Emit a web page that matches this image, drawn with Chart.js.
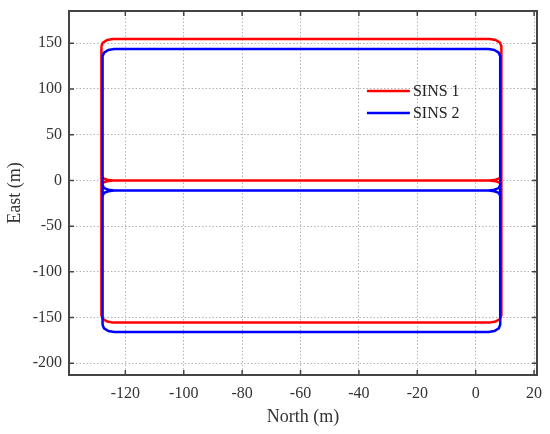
<!DOCTYPE html>
<html>
<head>
<meta charset="utf-8">
<script src="https://cdn.jsdelivr.net/npm/chart.js@4"></script>
<style>
  html, body { margin: 0; padding: 0; background: #fff; }
  #wrap { width: 550px; height: 434px; }
</style>
</head>
<body>
<div id="wrap"><canvas id="chart"></canvas></div>
<script>
// trajectory samples, null breaks the line between pieces
const sins1North = [
  -128.2, -127.7, -126.2, -124.2, 4.8, 6.8, 8.3, 8.8,
  8.8, 8.3, 6.8, 4.8, -124.2, -126.2, -127.7, -128.2, -128.2,
  null,
  8.8, 8.3, 6.8, 4.8, -124.2, -126.2, -127.7, -128.2,
  null,
  8.8, 8.3, 6.8, 4.8, -124.2, -126.2, -127.7, -128.2,
];
const sins1East = [
  146.7, 150.7, 153.6, 154.7, 154.7, 153.6, 150.7, 146.7,
  -147.5, -151.5, -154.4, -155.5, -155.5, -154.4, -151.5, -147.5, 146.7,
  null,
  6, 2.6, 0.8, 0, 0, 0.8, 2.6, 6,
  null,
  -6, -2.6, -0.8, 0, 0, -0.8, -2.6, -6,
];
const sins2North = [
  -127.8, -127.3, -125.8, -123.8, 4.4, 6.4, 7.9, 8.4,
  8.4, 7.9, 6.4, 4.4, -123.8, -125.8, -127.3, -127.8, -127.8,
  null,
  8.4, 7.9, 6.4, 4.4, -123.8, -125.8, -127.3, -127.8,
  null,
  8.4, 7.9, 6.4, 4.4, -123.8, -125.8, -127.3, -127.8,
];
const sins2East = [
  135.7, 139.7, 142.6, 143.7, 143.7, 142.6, 139.7, 135.7,
  -157.8, -161.8, -164.7, -165.8, -165.8, -164.7, -161.8, -157.8, 135.7,
  null,
  -5, -8.4, -10.2, -11, -11, -10.2, -8.4, -5,
  null,
  -17, -13.6, -11.8, -11, -11, -11.8, -13.6, -17,
];
const seriesNames = ["SINS 1", "SINS 2"];
const xTicks = [-120, -100, -80, -60, -40, -20, 0, 20];
const yTicks = [-200, -150, -100, -50, 0, 50, 100, 150];

const toPoints = (xs, ys) =>
  xs.map((x, i) => (x === null ? { x: null, y: null } : { x: x, y: ys[i] }));

const FONT = "'Liberation Serif', 'DejaVu Serif', serif";

// frame, inward ticks and legend inside the plot
const framePlugin = {
  id: "frame",
  afterDraw(chart) {
    const ctx = chart.ctx;
    const a = chart.chartArea;
    const xs = chart.scales.x;
    const ys = chart.scales.y;
    ctx.save();
    ctx.strokeStyle = "#444";
    ctx.lineWidth = 1.5;
    xTicks.forEach((v) => {
      const px = xs.getPixelForValue(v);
      ctx.beginPath();
      ctx.moveTo(px, a.bottom);
      ctx.lineTo(px, a.bottom - 5);
      ctx.moveTo(px, a.top);
      ctx.lineTo(px, a.top + 5);
      ctx.stroke();
    });
    yTicks.forEach((v) => {
      const py = ys.getPixelForValue(v);
      ctx.beginPath();
      ctx.moveTo(a.left, py);
      ctx.lineTo(a.left + 5, py);
      ctx.moveTo(a.right, py);
      ctx.lineTo(a.right - 5, py);
      ctx.stroke();
    });
    ctx.lineWidth = 2;
    ctx.strokeRect(a.left, a.top, a.right - a.left, a.bottom - a.top);

    // legend
    const lx = xs.getPixelForValue(-40) + 8;
    chart.data.datasets.forEach((ds, i) => {
      const ly = ys.getPixelForValue(100) + 2 + i * 22;
      ctx.strokeStyle = ds.borderColor;
      ctx.lineWidth = 2.5;
      ctx.beginPath();
      ctx.moveTo(lx, ly);
      ctx.lineTo(lx + 43, ly);
      ctx.stroke();
      ctx.fillStyle = "#222";
      ctx.font = "16px " + FONT;
      ctx.textBaseline = "middle";
      ctx.textAlign = "left";
      ctx.fillText(ds.label, lx + 46, ly + 1);
    });
    ctx.restore();
  },
};

const gridOpts = { color: "#b4b4b4", lineWidth: 1, drawTicks: false };
const borderOpts = { display: false, dash: [1.5, 2] };

new Chart(document.getElementById("chart"), {
  type: "scatter",
  data: {
    datasets: [
      {
        label: seriesNames[0],
        data: toPoints(sins1North, sins1East),
        borderColor: "#ff0000",
        borderWidth: 2.5,
        showLine: true,
        pointRadius: 0,
        spanGaps: false,
        order: 1,
      },
      {
        label: seriesNames[1],
        data: toPoints(sins2North, sins2East),
        borderColor: "#0000ff",
        borderWidth: 2.5,
        showLine: true,
        pointRadius: 0,
        spanGaps: false,
        order: 0,
      },
    ],
  },
  options: {
    responsive: true,
    maintainAspectRatio: false,
    animation: false,
    layout: { padding: { left: 4, top: 11, right: 13, bottom: 6 } },
    plugins: {
      legend: { display: false },
      tooltip: { enabled: false },
    },
    scales: {
      x: {
        type: "linear",
        min: -139.3,
        max: 21,
        afterBuildTicks: (s) => { s.ticks = xTicks.map((v) => ({ value: v })); },
        afterFit: (s) => {
          s.height = 53;
          s.paddingLeft = 0;
          s.paddingRight = 0;
        },
        grid: gridOpts,
        border: borderOpts,
        ticks: {
          color: "#333",
          padding: 9,
          maxRotation: 0,
          font: { family: FONT, size: 16 },
        },
        title: {
          display: true,
          text: "North (m)",
          color: "#333",
          font: { family: FONT, size: 18 },
          padding: { top: 2, bottom: 0 },
        },
      },
      y: {
        type: "linear",
        min: -212.8,
        max: 185.3,
        afterBuildTicks: (s) => { s.ticks = yTicks.map((v) => ({ value: v })); },
        afterFit: (s) => {
          s.width = 65;
          s.paddingTop = 0;
          s.paddingBottom = 0;
        },
        grid: gridOpts,
        border: borderOpts,
        ticks: {
          color: "#333",
          padding: 7,
          font: { family: FONT, size: 16 },
        },
        title: {
          display: true,
          text: "East (m)",
          color: "#333",
          font: { family: FONT, size: 18 },
          padding: { top: 0, bottom: 2 },
        },
      },
    },
  },
  plugins: [framePlugin],
});
</script>
</body>
</html>
